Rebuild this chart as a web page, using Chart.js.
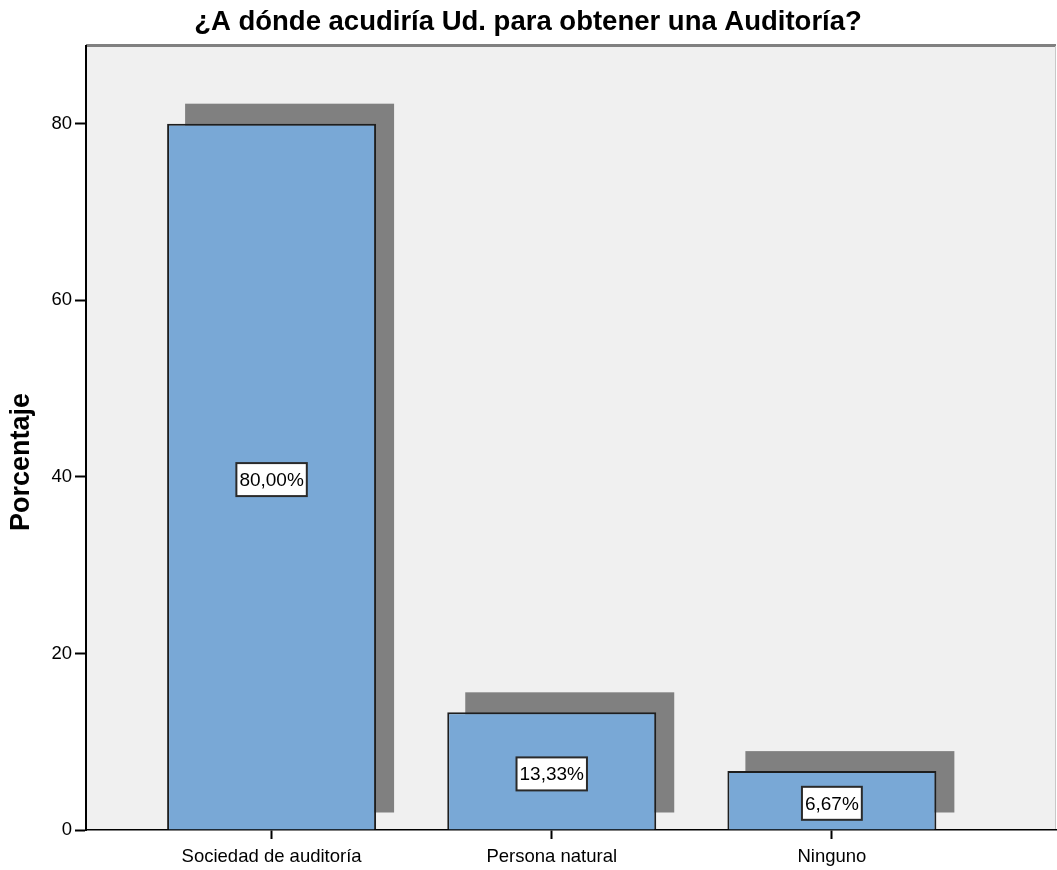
<!DOCTYPE html>
<html>
<head>
<meta charset="utf-8">
<script src="https://cdn.jsdelivr.net/npm/chart.js@4.4.1/dist/chart.umd.min.js"></script>
<style>
  html, body { margin:0; padding:0; background:#fff; }
  #wrap { width:1057px; height:870px; position:relative; }
</style>
</head>
<body>
<div id="wrap"><canvas id="c"></canvas></div>
<script>
const titleText = '¿A dónde acudiría Ud. para obtener una Auditoría?';
const categories = ['Sociedad de auditoría', 'Persona natural', 'Ninguno'];
const percentages = [80.00, 13.33, 6.67];
const yTicks = [0, 20, 40, 60, 80];
const yTitle = 'Porcentaje';

const FONT = 'Arial, "Liberation Sans", sans-serif';
const fmtPct = v => v.toFixed(2).replace('.', ',') + '%';

// plot background + frame
const plotBg = {
  id: 'plotBg',
  beforeDraw(chart){
    const {ctx, chartArea:a} = chart;
    ctx.save();
    ctx.fillStyle = '#f0f0f0';
    ctx.fillRect(a.left, a.top, a.right - a.left, a.bottom - a.top);
    ctx.fillStyle = '#808080';
    ctx.fillRect(a.left, a.top - 2, a.right - a.left, 3);
    ctx.fillStyle = '#c8c8c8';
    ctx.fillRect(a.right - 1, a.top, 1, a.bottom - a.top);
    ctx.restore();
  }
};

// SPSS style drop shadow behind each bar
const barShadow = {
  id: 'barShadow',
  beforeDatasetsDraw(chart){
    const {ctx} = chart;
    ctx.save();
    ctx.fillStyle = '#808080';
    chart.getDatasetMeta(0).data.forEach(b => {
      const w = b.width;
      ctx.fillRect(b.x - w/2 + 18, b.y - 20, w, b.base - b.y + 3);
    });
    ctx.restore();
  }
};

// value labels in white boxes at the middle of each bar
const valueBoxes = {
  id: 'valueBoxes',
  afterDatasetsDraw(chart){
    const {ctx} = chart;
    ctx.save();
    ctx.font = '19px ' + FONT;
    ctx.textAlign = 'center';
    ctx.textBaseline = 'middle';
    chart.getDatasetMeta(0).data.forEach((b, i) => {
      const txt = fmtPct(percentages[i]);
      const tw = ctx.measureText(txt).width;
      const cy = (b.y + b.base) / 2 + 3;
      const bw = tw + 6, bh = 33;
      ctx.fillStyle = '#ffffff';
      ctx.fillRect(b.x - bw/2, cy - bh/2, bw, bh);
      ctx.strokeStyle = '#2a2a2a';
      ctx.lineWidth = 2;
      ctx.strokeRect(b.x - bw/2, cy - bh/2, bw, bh);
      ctx.fillStyle = '#000';
      ctx.fillText(txt, b.x, cy + 1);
    });
    ctx.restore();
  }
};

// rotated y axis title, sitting a bit below the plot centre as in the source
const yAxisTitle = {
  id: 'yAxisTitle',
  afterDraw(chart){
    const {ctx, chartArea:a} = chart;
    ctx.save();
    ctx.translate(22, (a.top + a.bottom) / 2 + 24);
    ctx.rotate(-Math.PI / 2);
    ctx.font = 'bold 27px ' + FONT;
    ctx.fillStyle = '#000';
    ctx.textAlign = 'center';
    ctx.textBaseline = 'middle';
    ctx.fillText(yTitle, 0, 0);
    ctx.restore();
  }
};

new Chart(document.getElementById('c'), {
  type: 'bar',
  data: {
    datasets: [{
      data: percentages.map((v, i) => ({x: i, y: v})),
      backgroundColor: '#79a8d6',
      borderColor: '#1e1e1e',
      borderWidth: 2,
      barPercentage: 0.746,
      categoryPercentage: 1
    }]
  },
  options: {
    responsive: true,
    maintainAspectRatio: false,
    animation: false,
    layout: { padding: { top: 0, right: 1, left: 0, bottom: 0 } },
    plugins: {
      legend: { display: false },
      tooltip: { enabled: false },
      title: {
        display: true,
        text: titleText,
        color: '#000',
        font: { family: FONT, size: 27.5, weight: 'bold', lineHeight: 1.2 },
        padding: { top: 6, bottom: 7 }
      }
    },
    scales: {
      x: {
        type: 'linear',
        offset: false,
        min: -0.6625,
        max: 2.8,
        afterBuildTicks: s => { s.ticks = categories.map((_, i) => ({value: i})); },
        afterFit: s => { s.height = 40; },
        ticks: {
          color: '#000',
          font: { family: FONT, size: 18.5 },
          padding: 7,
          maxRotation: 0,
          autoSkip: false,
          callback: v => categories[v] ?? ''
        },
        grid: { offset: false, drawOnChartArea: false, drawTicks: true, tickLength: 9, color: '#000', tickColor: '#000', tickWidth: 2 },
        border: { color: '#000', width: 1.5 }
      },
      y: {
        min: 0,
        max: 88.8,
        afterBuildTicks: s => { s.ticks = yTicks.map(v => ({value: v})); },
        afterFit: s => { s.width = 86; },
        ticks: { color: '#000', font: { family: FONT, size: 18.5 }, padding: 3 },
        grid: { drawOnChartArea: false, drawTicks: true, tickLength: 11, tickColor: '#000', tickWidth: 2 },
        border: { color: '#000', width: 2 },
        title: { display: false }
      }
    }
  },
  plugins: [plotBg, barShadow, valueBoxes, yAxisTitle]
});
</script>
</body>
</html>
